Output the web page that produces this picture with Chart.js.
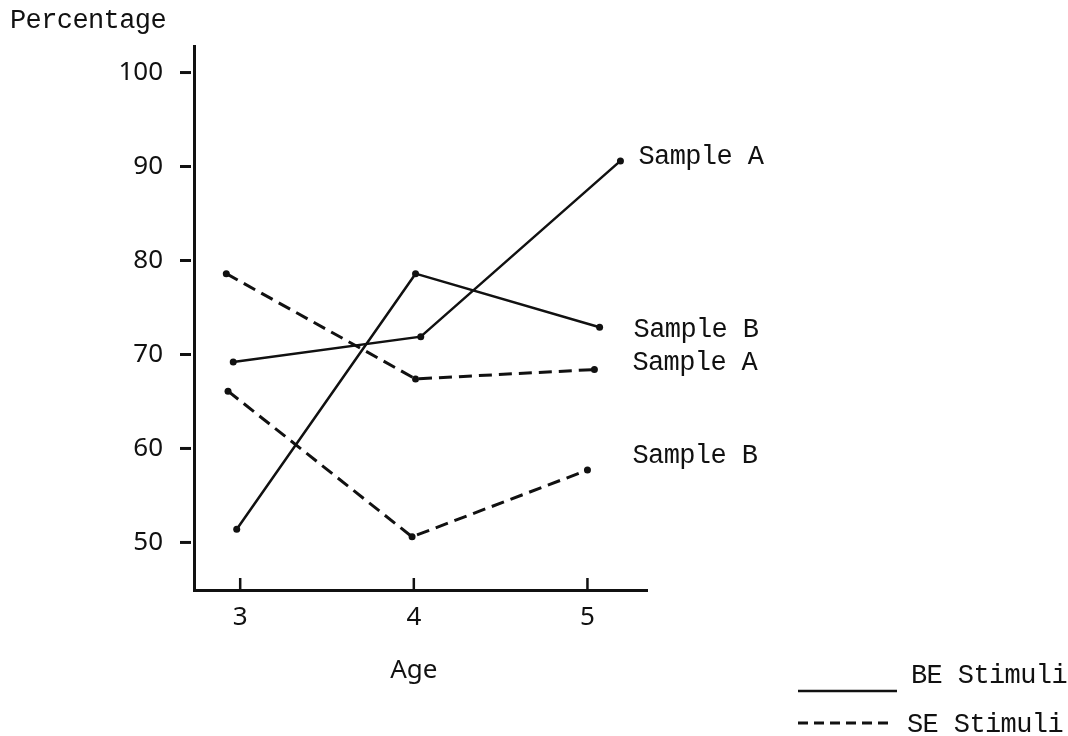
<!DOCTYPE html>
<html><head><meta charset="utf-8">
<script src="https://cdn.jsdelivr.net/npm/chart.js@4"></script>
<style>html,body{margin:0;padding:0;background:#fff;}#wrap{width:1068px;height:736px;position:relative;}</style>
</head><body><div id="wrap"><canvas id="c"></canvas></div>
<script>
// ---- data ----
const ageTicks = [3, 4, 5];
const pctTicks = [50, 60, 70, 80, 90, 100];
const beSampleA_age = [2.96, 4.04, 5.19];
const beSampleA_pct = [69.2, 71.9, 90.6];
const beSampleB_age = [2.98, 4.01, 5.07];
const beSampleB_pct = [51.4, 78.6, 72.9];
const seSampleA_age = [2.92, 4.01, 5.04];
const seSampleA_pct = [78.6, 67.4, 68.4];
const seSampleB_age = [2.93, 3.99, 5.00];
const seSampleB_pct = [66.1, 50.6, 57.7];
const seriesNames = ['Sample A', 'Sample B', 'Sample A', 'Sample B'];
const legendLabels = ['BE Stimuli', 'SE Stimuli'];
const yTitle = 'Percentage';
const xTitle = 'Age';

const INK = '#111';
const MONO = '"Liberation Mono", monospace';
const SANS = '"Noto Sans", sans-serif';
const MONO_FONT = '27px ' + MONO;

function pts(xs, ys) { return xs.map((x, i) => ({ x: x, y: ys[i] })); }

function ds(name, xs, ys, dashed, off) {
  return {
    label: name,
    data: pts(xs, ys),
    showLine: true,
    borderColor: INK,
    borderWidth: dashed ? 3 : 2.5,
    borderDash: dashed ? [13, 7] : [],
    pointRadius: 3.5,
    pointBackgroundColor: INK,
    pointBorderWidth: 0,
    tension: 0,
    endLabelOffset: off
  };
}

const annot = {
  id: 'annot',
  afterDraw(chart) {
    const ctx = chart.ctx;
    const xs = chart.scales.x, ys = chart.scales.y;
    const ca = chart.chartArea;
    ctx.save();
    ctx.fillStyle = INK;
    ctx.strokeStyle = INK;
    // y tick marks (outside, left)
    ctx.lineWidth = 3;
    pctTicks.forEach(v => {
      const y = ys.getPixelForValue(v);
      ctx.beginPath(); ctx.moveTo(ca.left - 14, y); ctx.lineTo(ca.left - 3, y); ctx.stroke();
    });
    // x tick marks (inside, up)
    ctx.lineWidth = 2.5;
    ageTicks.forEach(v => {
      const x = xs.getPixelForValue(v);
      ctx.beginPath(); ctx.moveTo(x, ca.bottom); ctx.lineTo(x, ca.bottom - 12); ctx.stroke();
    });
    // titles
    ctx.font = MONO_FONT;
    if ('letterSpacing' in ctx) ctx.letterSpacing = '-0.6px';
    ctx.textBaseline = 'alphabetic';
    ctx.textAlign = 'left';
    ctx.fillText(yTitle, 10, 28);
    // end labels
    chart.data.datasets.forEach((d, i) => {
      const last = d.data[d.data.length - 1];
      const px = xs.getPixelForValue(last.x), py = ys.getPixelForValue(last.y);
      ctx.fillText(seriesNames[i], px + d.endLabelOffset[0], py + d.endLabelOffset[1]);
    });
    // legend
    ctx.fillText(legendLabels[0], 911, 683);
    ctx.fillText(legendLabels[1], 907, 732);
    if ('letterSpacing' in ctx) ctx.letterSpacing = '0px';
    ctx.lineWidth = 2.5;
    ctx.setLineDash([]);
    ctx.beginPath(); ctx.moveTo(798, 691); ctx.lineTo(897, 691); ctx.stroke();
    ctx.lineWidth = 3;
    ctx.setLineDash([10, 6]);
    ctx.beginPath(); ctx.moveTo(798, 723); ctx.lineTo(892, 723); ctx.stroke();
    ctx.setLineDash([]);
    // x title
    ctx.font = '26px ' + SANS;
    ctx.textAlign = 'center';
    ctx.fillText(xTitle, (xs.getPixelForValue(ageTicks[0]) + xs.getPixelForValue(ageTicks[2])) / 2, 678);
    ctx.restore();
  }
};

new Chart(document.getElementById('c'), {
  type: 'scatter',
  data: {
    datasets: [
      ds(seriesNames[0], beSampleA_age, beSampleA_pct, false, [18, 3]),
      ds(seriesNames[1], beSampleB_age, beSampleB_pct, false, [34, 10]),
      ds(seriesNames[2], seSampleA_age, seSampleA_pct, true, [38, 0]),
      ds(seriesNames[3], seSampleB_age, seSampleB_pct, true, [45, -7])
    ]
  },
  options: {
    responsive: true,
    maintainAspectRatio: false,
    animation: false,
    layout: { padding: { top: 45, right: 421, left: 0, bottom: 0 } },
    plugins: { legend: { display: false }, tooltip: { enabled: false }, title: { display: false } },
    scales: {
      x: {
        type: 'linear', min: 2.734, max: 5.343,
        afterBuildTicks: s => { s.ticks = ageTicks.map(v => ({ value: v })); },
        afterFit: s => { s.height = 146; },
        grid: { display: false, drawTicks: false },
        border: { display: true, color: INK, width: 3 },
        ticks: { color: INK, font: { family: SANS, size: 26 }, padding: 12, autoSkip: false, maxRotation: 0,
                 callback: v => String(v) }
      },
      y: {
        type: 'linear', min: 44.94, max: 102.76,
        afterBuildTicks: s => { s.ticks = pctTicks.map(v => ({ value: v })); },
        afterFit: s => { s.width = 194; },
        grid: { display: false, drawTicks: false },
        border: { display: true, color: INK, width: 3 },
        ticks: { color: INK, font: { family: SANS, size: 26 }, padding: 31, autoSkip: false,
                 callback: v => String(v) }
      }
    }
  },
  plugins: [annot]
});
</script>
</body></html>
